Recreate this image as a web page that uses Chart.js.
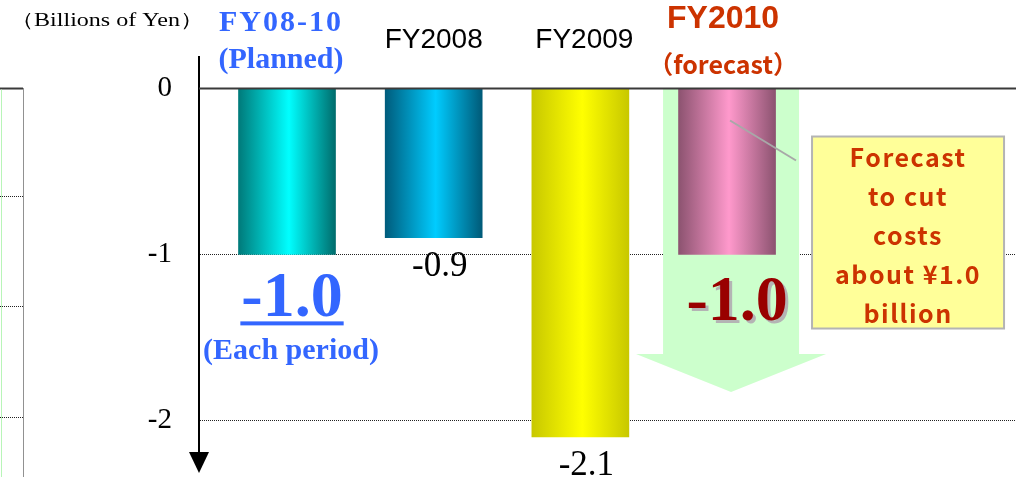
<!DOCTYPE html>
<html>
<head>
<meta charset="utf-8">
<script src="https://cdn.jsdelivr.net/npm/chart.js@4.4.1/dist/chart.umd.min.js"></script>
<style>
  html, body { margin: 0; padding: 0; background: #fff; overflow: hidden; }
  canvas { display: block; }
</style>
</head>
<body>
<canvas id="c" width="1016" height="477"></canvas>
<script>
// ---- data ----
const categories = ['FY08-10', 'FY2008', 'FY2009', 'FY2010'];
const subLabels = ['(Planned)', '', '', '（forecast）'];
const costChange = [-1.0, -0.9, -2.1, -1.0];
const yTicks = [0, -1, -2];
const unitLabel = '（Billions of Yen）';
const averageNote = '(Each period)';
const noteLines = ['Forecast', 'to cut', 'costs', 'about ¥1.0', 'billion'];

// ---- styling ----
const SERIF = '"Liberation Serif", "Times New Roman", serif';
const SANS = '"Liberation Sans", Arial, "Noto Sans CJK JP", sans-serif';
const GOTHIC = '"Noto Sans CJK JP", "Noto Sans", sans-serif';
const BLUE = '#3366ff';
const ORANGE_RED = '#cc3300';
const DARK_RED = '#990000';
const ARROW_GREEN = '#ccffcc';
const BAR_W = 97;
const barShades = [
  ['#007a7a', '#00ffff', '#006c6c'],
  ['#005c7c', '#00ccff', '#005a78'],
  ['#c8c800', '#ffff00', '#c8c800'],
  ['#8c5370', '#ff99cc', '#8c5370']
];

function barGradient(ctx) {
  const chart = ctx.chart;
  const i = ctx.dataIndex;
  const shade = barShades[i] || barShades[0];
  const xs = chart.scales && chart.scales.x;
  if (!chart.chartArea || !xs) return shade[1];
  const cx = xs.getPixelForValue(i);
  const g = chart.ctx.createLinearGradient(cx - BAR_W / 2, 0, cx + BAR_W / 2, 0);
  g.addColorStop(0, shade[0]);
  g.addColorStop(0.52, shade[1]);
  g.addColorStop(1, shade[2]);
  return g;
}

function text(ctx, str, x, y, font, color, align, baseline, spacing) {
  ctx.save();
  ctx.font = font;
  ctx.fillStyle = color;
  ctx.textAlign = align || 'center';
  ctx.textBaseline = baseline || 'middle';
  if (spacing) ctx.letterSpacing = spacing;
  ctx.fillText(str, x, y);
  ctx.restore();
}

// left-aligned text stretched horizontally to a given width
function wideText(ctx, str, x, y, font, color, width) {
  ctx.save();
  ctx.font = font;
  ctx.fillStyle = color;
  ctx.textAlign = 'left';
  ctx.textBaseline = 'middle';
  const w = ctx.measureText(str).width;
  ctx.translate(x, y);
  ctx.scale(width / w, 1);
  ctx.fillText(str, 0, 0);
  ctx.restore();
}

const decor = {
  id: 'decor',
  beforeDatasetsDraw(chart) {
    // big green arrow behind the forecast bar
    const { ctx } = chart;
    const xs = chart.scales.x, ys = chart.scales.y;
    const cx = xs.getPixelForValue(3) + 4;
    const top = ys.getPixelForValue(0);
    const shaftEnd = ys.getPixelForValue(-1.6);
    const tip = ys.getPixelForValue(-1.83);
    ctx.save();
    ctx.fillStyle = ARROW_GREEN;
    ctx.beginPath();
    ctx.moveTo(cx - 68, top);
    ctx.lineTo(cx + 68, top);
    ctx.lineTo(cx + 68, shaftEnd);
    ctx.lineTo(cx + 95, shaftEnd);
    ctx.lineTo(cx, tip);
    ctx.lineTo(cx - 95, shaftEnd);
    ctx.lineTo(cx - 68, shaftEnd);
    ctx.closePath();
    ctx.fill();
    ctx.restore();
  },
  afterDatasetsDraw(chart) {
    const { ctx, chartArea } = chart;
    const xs = chart.scales.x, ys = chart.scales.y;
    const y0 = ys.getPixelForValue(0);
    const bars = chart.getDatasetMeta(0).data;

    // zero line
    ctx.save();
    ctx.strokeStyle = '#3a3a3a';
    ctx.lineWidth = 2;
    ctx.beginPath();
    ctx.moveTo(chartArea.left, y0);
    ctx.lineTo(chartArea.right, y0);
    ctx.stroke();

    // axis arrow head
    const ax = chartArea.left;
    ctx.fillStyle = '#000';
    ctx.beginPath();
    ctx.moveTo(ax - 10, 452);
    ctx.lineTo(ax + 10, 452);
    ctx.lineTo(ax, 473);
    ctx.closePath();
    ctx.fill();

    // edge of the neighbouring panel on the left
    ctx.lineWidth = 2;
    ctx.strokeStyle = '#3a3a3a';
    ctx.beginPath();
    ctx.moveTo(0, y0);
    ctx.lineTo(23, y0);
    ctx.stroke();
    ctx.lineWidth = 1;
    ctx.strokeStyle = '#222';
    ctx.setLineDash([1, 1]);
    ctx.beginPath();
    ctx.moveTo(23.5, y0);
    ctx.lineTo(23.5, 477);
    [196.5, 306.5, 417.5].forEach(gy => { ctx.moveTo(0, gy); ctx.lineTo(23, gy); });
    ctx.stroke();
    ctx.setLineDash([]);
    ctx.strokeStyle = '#b8f5b8';
    ctx.beginPath();
    ctx.moveTo(1.5, y0 + 1);
    ctx.lineTo(1.5, 477);
    ctx.stroke();
    ctx.restore();

    // unit label
    wideText(ctx, unitLabel, 10, 21, '19px ' + SERIF, '#000', 194);

    // category headings
    categories.forEach((cat, i) => {
      const cx = xs.getPixelForValue(i);
      if (i === 0) {
        text(ctx, cat, cx - 6, 23, 'bold 30px ' + SERIF, BLUE, 'center', 'middle', '2px');
        text(ctx, subLabels[i], cx - 6, 60, 'bold 30px ' + SERIF, BLUE);
      } else if (i === 3) {
        text(ctx, cat, cx - 4, 19, 'bold 32px ' + SANS, ORANGE_RED);
        text(ctx, subLabels[i], cx - 4, 64, 'bold 25px ' + GOTHIC, ORANGE_RED);
      } else {
        text(ctx, cat, cx + (i === 2 ? 4 : 0), 40, '28px ' + SANS, '#000');
      }
    });

    // value labels
    bars.forEach((bar, i) => {
      const v = costChange[i];
      const label = v.toFixed(1);
      const bottom = bar.y;
      if (i === 0) {
        const lx = bar.x + 5;
        ctx.save();
        ctx.font = 'bold 64px ' + SERIF;
        const w = ctx.measureText(label).width;
        ctx.restore();
        text(ctx, label, lx, bottom + 62, 'bold 64px ' + SERIF, BLUE, 'center', 'alphabetic');
        ctx.save();
        ctx.fillStyle = BLUE;
        ctx.fillRect(lx - w / 2 - 1, bottom + 67, w + 2, 4);
        ctx.restore();
        text(ctx, averageNote, lx - 1, bottom + 97, 'bold 30px ' + SERIF, BLUE);
      } else if (i === 3) {
        const lx = bar.x + 10;
        text(ctx, label, lx + 3, bottom + 69, 'bold 64px ' + SERIF, '#b4b4b4', 'center', 'alphabetic');
        text(ctx, label, lx, bottom + 66, 'bold 64px ' + SERIF, DARK_RED, 'center', 'alphabetic');
      } else {
        text(ctx, label, bar.x + 6, bottom + 38, '35px ' + SERIF, '#000', 'center', 'alphabetic');
      }
    });

    // callout box with leader line
    const fx = xs.getPixelForValue(3);
    ctx.save();
    ctx.strokeStyle = '#a8a8a8';
    ctx.lineWidth = 2;
    ctx.beginPath();
    ctx.moveTo(fx + 3, y0 + 32);
    ctx.lineTo(fx + 69, y0 + 72);
    ctx.stroke();
    const bx = fx + 85, by = y0 + 48, bw = 192, bh = 192;
    ctx.fillStyle = '#ffff99';
    ctx.fillRect(bx, by, bw, bh);
    ctx.strokeStyle = '#b4b4b4';
    ctx.strokeRect(bx, by, bw, bh);
    ctx.restore();
    noteLines.forEach((line, k) => {
      text(ctx, line, bx + bw / 2, by + 21 + k * 39, 'bold 25px ' + GOTHIC, ORANGE_RED, 'center', 'middle', '1.5px');
    });
  }
};

new Chart(document.getElementById('c'), {
  type: 'bar',
  data: {
    datasets: [{
      data: costChange.map((v, i) => ({ x: i, y: v })),
      backgroundColor: barGradient,
      borderWidth: 0,
      barThickness: BAR_W
    }]
  },
  options: {
    responsive: false,
    animation: false,
    devicePixelRatio: 1,
    layout: { padding: { top: 57, bottom: 7, left: 0, right: 0 } },
    plugins: { legend: { display: false }, tooltip: { enabled: false } },
    scales: {
      x: {
        type: 'linear',
        display: false,
        offset: false,
        min: -0.6,
        max: 4.97
      },
      y: {
        min: -2.3,
        max: 0.19,
        afterFit(scale) {
          scale.width = 199;
          scale.paddingTop = 0;
          scale.paddingBottom = 0;
        },
        afterBuildTicks(scale) { scale.ticks = yTicks.map(v => ({ value: v })); },
        ticks: {
          padding: 27,
          color: '#000',
          font: { family: SERIF, size: 29 },
          callback: v => String(v)
        },
        grid: {
          drawTicks: false,
          color: c => (c.tick && c.tick.value === 0 ? 'rgba(0,0,0,0)' : '#222'),
          lineWidth: c => (c.tick && c.tick.value === 0 ? 0 : 1)
        },
        border: { display: true, color: '#000', width: 2, dash: [1, 1] }
      }
    }
  },
  plugins: [decor]
});
</script>
</body>
</html>
